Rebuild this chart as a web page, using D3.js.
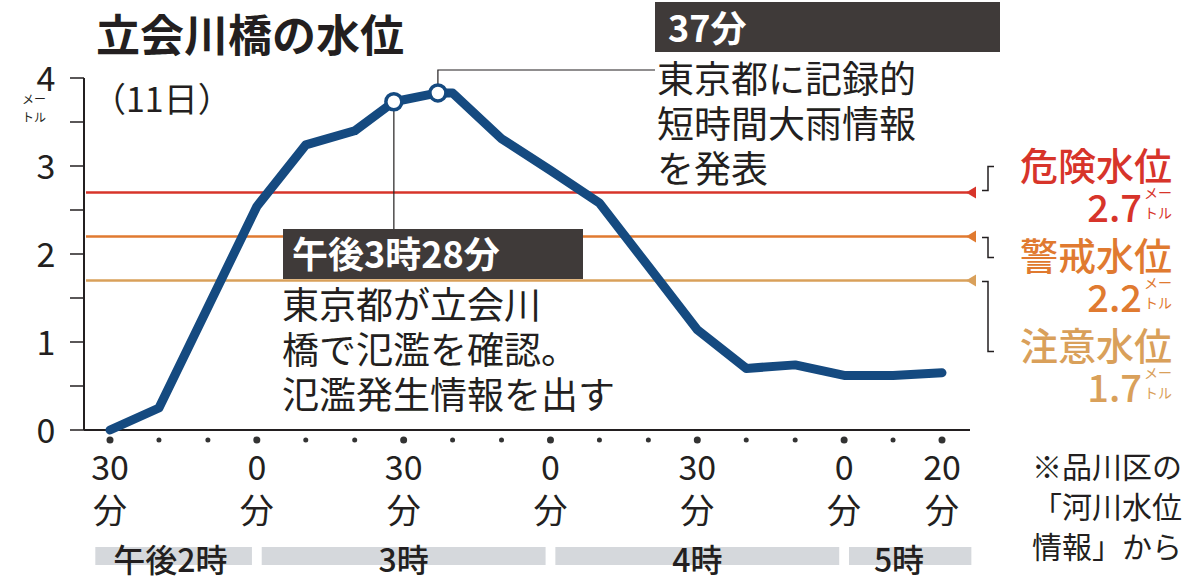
<!DOCTYPE html>
<html><head><meta charset="utf-8">
<script src="https://cdn.jsdelivr.net/npm/d3@7"></script>
<style>
body{margin:0;background:#fff}
svg text{font-family:"Noto Sans CJK JP",sans-serif;fill:#231f20}
</style></head><body>
<svg id="c" width="1200" height="581"></svg>
<script>
// minutes after 2:30 pm, level in metres
var minutes = [0,10,30,40,50,58,67,70,80,90,100,110,120,130,140,150,160,170];
var levels  = [0,0.25,2.54,3.24,3.40,3.73,3.83,3.83,3.31,2.95,2.58,1.86,1.14,0.70,0.74,0.62,0.62,0.65];
var thresholds = [
  {name:"危険水位", v:2.7, label:"2.7", color:"#d7342a"},
  {name:"警戒水位", v:2.2, label:"2.2", color:"#e07a30"},
  {name:"注意水位", v:1.7, label:"1.7", color:"#d9a05a"}
];
var xTicks = [0,30,60,90,120,150,170];
var xTickLabels = ["30","0","30","0","30","0","20"];
var hourBands = [{t:"午後2時",a:-3,b:29},{t:"3時",a:31,b:89},{t:"4時",a:91,b:149},{t:"5時",a:151,b:176}];

var svg = d3.select("#c");
var x = d3.scaleLinear().domain([0,170]).range([110,942]);
var y = d3.scaleLinear().domain([0,4]).range([430,78]);

svg.append("text").attr("x",96).attr("y",52).attr("font-size",44).attr("font-weight",700).text("立会川橋の水位");
svg.append("text").attr("x",92).attr("y",112).attr("font-size",34).text("（11日）");
svg.append("text").attr("x",22).attr("y",104).attr("font-size",12).text("メー");
svg.append("text").attr("x",22).attr("y",122).attr("font-size",12).text("トル");

// y axis
svg.append("line").attr("x1",84).attr("x2",84).attr("y1",y(4)).attr("y2",y(0)).attr("stroke","#231f20").attr("stroke-width",2);
d3.range(0,4.01,0.5).forEach(function(v){
  svg.append("line").attr("x1",70).attr("x2",84).attr("y1",y(v)).attr("y2",y(v)).attr("stroke","#231f20").attr("stroke-width",1.5);
});
[0,1,2,3,4].forEach(function(v){
  svg.append("text").attr("x",46).attr("y",y(v)+13).attr("font-size",34).attr("text-anchor","middle").text(v);
});
svg.append("line").attr("x1",84).attr("x2",970).attr("y1",y(0)).attr("y2",y(0)).attr("stroke","#231f20").attr("stroke-width",2);
d3.range(0,171,10).forEach(function(m){
  svg.append("circle").attr("cx",x(m)).attr("cy",y(0)+10).attr("r",xTicks.indexOf(m)>=0?3.5:2.5).attr("fill","#333");
});
xTicks.forEach(function(m,i){
  svg.append("text").attr("x",x(m)).attr("y",480).attr("font-size",34).attr("text-anchor","middle").text(xTickLabels[i]);
  svg.append("text").attr("x",x(m)).attr("y",523).attr("font-size",34).attr("text-anchor","middle").text("分");
});
hourBands.forEach(function(h){
  svg.append("rect").attr("x",x(h.a)).attr("width",x(h.b)-x(h.a)).attr("y",547).attr("height",18).attr("fill","#d5d8dc");
  var cx=(x(h.a)+x(h.b))/2;
  if(h.t=="午後2時") cx=x(h.a)+75;
  if(h.t=="5時") cx=x(h.a)+50;
  svg.append("text").attr("x",cx).attr("y",572).attr("font-size",32).attr("font-weight",500).attr("text-anchor","middle").text(h.t);
});

// thresholds
thresholds.forEach(function(t,i){
  var yy=y(t.v);
  svg.append("line").attr("x1",86).attr("x2",968).attr("y1",yy).attr("y2",yy).attr("stroke",t.color).attr("stroke-width",2.5);
  svg.append("path").attr("d","M966,"+yy+"l10,-6v12z").attr("fill",t.color);
  var ty=[180,270,360][i];
  svg.append("text").attr("x",1172).attr("y",ty).attr("font-size",38).attr("font-weight",500).attr("text-anchor","end").style("fill",t.color).text(t.name);
  svg.append("text").attr("x",1142).attr("y",ty+42).attr("font-size",38).attr("font-weight",500).attr("text-anchor","end").style("fill",t.color).text(t.label);
  svg.append("text").attr("x",1144).attr("y",ty+18).attr("font-size",14).style("fill",t.color).text("メー");
  svg.append("text").attr("x",1144).attr("y",ty+38).attr("font-size",14).style("fill",t.color).text("トル");
});
var bk=function(d){svg.append("path").attr("d",d).attr("fill","none").attr("stroke","#231f20").attr("stroke-width",1.5);};
bk("M982,"+(y(2.7)-2)+"h6v-24h6");
bk("M982,"+(y(2.2)+1)+"h6v20h6");
bk("M982,"+(y(1.7)+1)+"h6v70h6");

// leaders
svg.append("path").attr("d","M"+x(67)+","+y(3.83)+"V70H655").attr("fill","none").attr("stroke","#231f20").attr("stroke-width",1.2);
svg.append("line").attr("x1",x(58)).attr("x2",x(58)).attr("y1",y(3.73)).attr("y2",230).attr("stroke","#231f20").attr("stroke-width",1.2);

// line
svg.append("path").datum(minutes.map(function(m,i){return [m,levels[i]];}))
  .attr("d",d3.line().x(function(d){return x(d[0]);}).y(function(d){return y(d[1]);}))
  .attr("fill","none").attr("stroke","#154a80").attr("stroke-width",9).attr("stroke-linejoin","round").attr("stroke-linecap","round");
[58,67].forEach(function(m){
  svg.append("circle").attr("cx",x(m)).attr("cy",y(levels[minutes.indexOf(m)])).attr("r",8).attr("fill","#fff").attr("stroke","#154a80").attr("stroke-width",3.5);
});

// annotation boxes
svg.append("rect").attr("x",655).attr("y",2).attr("width",345).attr("height",50).attr("fill","#3f3a39");
svg.append("text").attr("x",668).attr("y",42).attr("font-size",36).attr("font-weight",700).style("fill","#fff").text("37分");
["東京都に記録的","短時間大雨情報","を発表"].forEach(function(s,i){
  svg.append("text").attr("x",657).attr("y",93+i*45).attr("font-size",37).text(s);
});
svg.append("rect").attr("x",283).attr("y",229).attr("width",300).attr("height",50).attr("fill","#3f3a39");
svg.append("text").attr("x",292).attr("y",268).attr("font-size",36).attr("font-weight",700).style("fill","#fff").text("午後3時28分");
["東京都が立会川","橋で氾濫を確認。","氾濫発生情報を出す"].forEach(function(s,i){
  svg.append("text").attr("x",282).attr("y",319+i*45).attr("font-size",37).text(s);
});
["※品川区の","「河川水位","情報」から"].forEach(function(s,i){
  svg.append("text").attr("x",1182).attr("y",478+i*40).attr("font-size",30).attr("text-anchor","end").text(s);
});
</script></body></html>
